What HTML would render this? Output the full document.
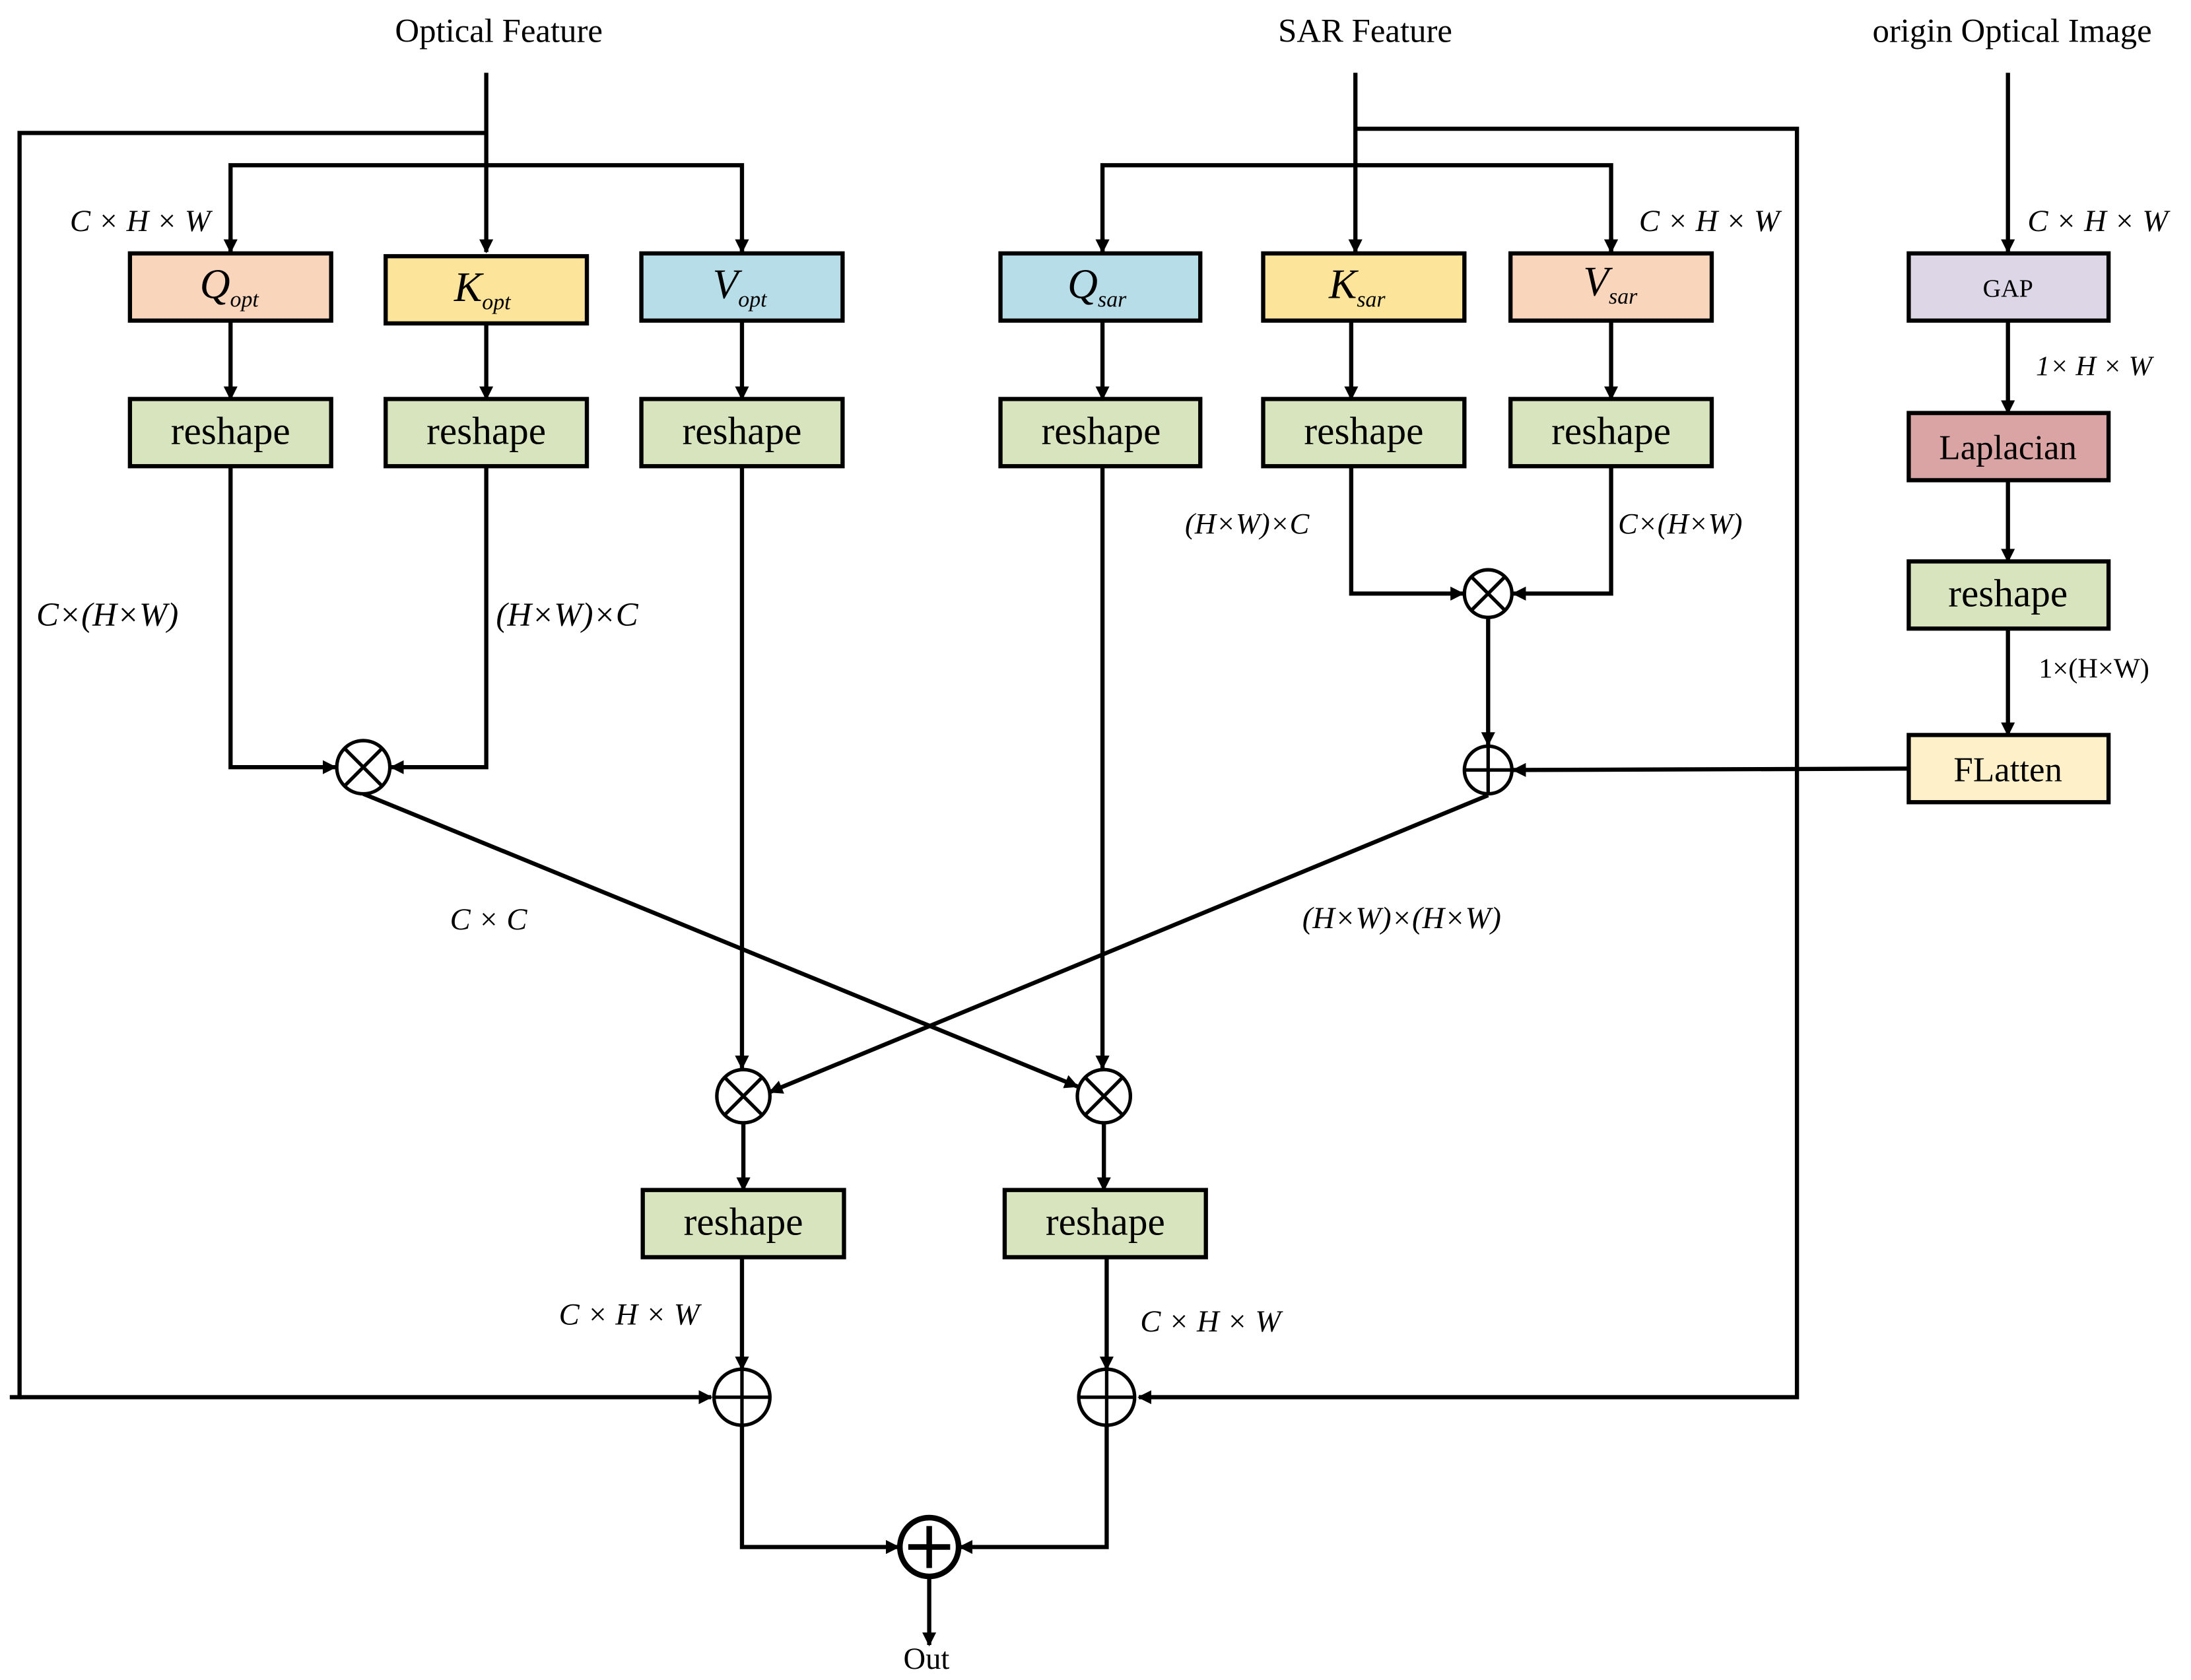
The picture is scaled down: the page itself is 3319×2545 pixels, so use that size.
<!DOCTYPE html>
<html><head><meta charset="utf-8"><style>
html,body{margin:0;padding:0;background:#fff;}
svg{display:block;}
text{font-family:"Liberation Serif",serif;fill:#000;}
.it{font-style:italic;}
</style></head><body>
<svg width="3319" height="2545" viewBox="0 0 1568 1200" preserveAspectRatio="none" xmlns="http://www.w3.org/2000/svg">
<defs>
<marker id="a" markerWidth="10" markerHeight="10" refX="9" refY="5" orient="auto" markerUnits="userSpaceOnUse">
<path d="M0,0 L10,5 L0,10 z" fill="#000"/></marker>
</defs>
<g stroke="#000" stroke-width="3" fill="none">
<!-- optical feature -->
<path d="M348,52 V180" marker-end="url(#a)"/>
<path d="M348,95 H14 V998 H7"/>
<path d="M14,998 H509" marker-end="url(#a)"/>
<path d="M165,180 V118 H531 V180" />
<path d="M165,170 V180" marker-end="url(#a)"/>
<path d="M531,170 V180" marker-end="url(#a)"/>
<!-- SAR -->
<path d="M970,52 V180" marker-end="url(#a)"/>
<path d="M970,92 H1286 V998 H815" marker-end="url(#a)"/>
<path d="M789,180 V118 H1153 V180"/>
<path d="M789,170 V180" marker-end="url(#a)"/>
<path d="M1153,170 V180" marker-end="url(#a)"/>
<!-- box to reshape -->
<path d="M165,229 V285" marker-end="url(#a)"/>
<path d="M348,231 V285" marker-end="url(#a)"/>
<path d="M531,229 V285" marker-end="url(#a)"/>
<path d="M789,229 V285" marker-end="url(#a)"/>
<path d="M967,229 V285" marker-end="url(#a)"/>
<path d="M1153,229 V285" marker-end="url(#a)"/>
<!-- optical reshape paths -->
<path d="M165,333 V548 H240" marker-end="url(#a)"/>
<path d="M348,333 V548 H280" marker-end="url(#a)"/>
<path d="M531,333 V763" marker-end="url(#a)"/>
<path d="M789,333 V763" marker-end="url(#a)"/>
<path d="M967,333 V424 H1047" marker-end="url(#a)"/>
<path d="M1153,333 V424 H1083" marker-end="url(#a)"/>
<path d="M1065,441 V532" marker-end="url(#a)"/>
<path d="M1366,549 L1083,550" marker-end="url(#a)"/>
<!-- GAP chain -->
<path d="M1437,52 V180" marker-end="url(#a)"/>
<path d="M1437,229 V295" marker-end="url(#a)"/>
<path d="M1437,343 V401" marker-end="url(#a)"/>
<path d="M1437,449 V525" marker-end="url(#a)"/>
<!-- crossing -->
<path d="M260,567 L771,776" marker-end="url(#a)"/>
<path d="M1065,568 L551,780" marker-end="url(#a)"/>
<!-- bottom -->
<path d="M532,802 V850" marker-end="url(#a)"/>
<path d="M790,802 V850" marker-end="url(#a)"/>
<path d="M531,898 V978" marker-end="url(#a)"/>
<path d="M792,898 V978" marker-end="url(#a)"/>
<path d="M531,1018 V1105 H643" marker-end="url(#a)"/>
<path d="M792,1018 V1105 H687" marker-end="url(#a)"/>
<path d="M665,1126 V1175" marker-end="url(#a)"/>
</g>
<!-- boxes -->
<g stroke="#000" stroke-width="3">
<rect x="93" y="181" width="144" height="48" fill="#f9d5bc"/>
<rect x="276" y="183" width="144" height="48" fill="#fde49b"/>
<rect x="459" y="181" width="144" height="48" fill="#b6dde8"/>
<rect x="716" y="181" width="143" height="48" fill="#b6dde8"/>
<rect x="904" y="181" width="144" height="48" fill="#fde49b"/>
<rect x="1081" y="181" width="144" height="48" fill="#f9d5bc"/>
<rect x="1366" y="181" width="143" height="48" fill="#dcd6e6"/>
<rect x="1366" y="295" width="143" height="48" fill="#dba4a4"/>
<rect x="1366" y="525" width="143" height="48" fill="#fef1c9"/>
<g fill="#d7e4bd">
<rect x="93" y="285" width="144" height="48"/>
<rect x="276" y="285" width="144" height="48"/>
<rect x="459" y="285" width="144" height="48"/>
<rect x="716" y="285" width="143" height="48"/>
<rect x="904" y="285" width="144" height="48"/>
<rect x="1081" y="285" width="144" height="48"/>
<rect x="1366" y="401" width="143" height="48"/>
<rect x="460" y="850" width="144" height="48"/>
<rect x="719" y="850" width="144" height="48"/>
</g>
</g>
<!-- circles -->
<g stroke="#000" stroke-width="2.5" fill="#fff">
<circle cx="260" cy="548" r="19"/><path d="M247,535 L273,561 M273,535 L247,561"/>
<circle cx="1065" cy="424" r="17"/><path d="M1053,412 L1077,436 M1077,412 L1053,436"/>
<circle cx="1065" cy="550" r="17"/><path d="M1048,550 H1082 M1065,533 V567"/>
<circle cx="532" cy="783" r="19"/><path d="M519,770 L545,796 M545,770 L519,796"/>
<circle cx="790" cy="783" r="19"/><path d="M777,770 L803,796 M803,770 L777,796"/>
<circle cx="531" cy="998" r="20"/><path d="M511,998 H551 M531,978 V1018"/>
<circle cx="792" cy="998" r="20"/><path d="M772,998 H812 M792,978 V1018"/>
<circle cx="665" cy="1105" r="21" stroke-width="4"/><path d="M650,1105 H680 M665,1090 V1120" stroke-width="4"/>
</g>
<!-- texts -->
<g font-size="24" text-anchor="middle">
<text x="357" y="30">Optical Feature</text>
<text x="977" y="30">SAR Feature</text>
<text x="1440" y="30">origin Optical Image</text>
<text x="663" y="1192" font-size="22">Out</text>
</g>
<g font-size="28" text-anchor="middle">
<text x="165" y="317">reshape</text>
<text x="348" y="317">reshape</text>
<text x="531" y="317">reshape</text>
<text x="788" y="317">reshape</text>
<text x="976" y="317">reshape</text>
<text x="1153" y="317">reshape</text>
<text x="1437" y="433">reshape</text>
<text x="532" y="882">reshape</text>
<text x="791" y="882">reshape</text>
<text x="1437" y="328" font-size="25">Laplacian</text>
<text x="1437" y="558" font-size="25">FLatten</text>
<text x="1437" y="212" font-size="18">GAP</text>
</g>
<g font-size="30" class="it">
<text x="143" y="213">Q<tspan font-size="16" dy="6">opt</tspan></text>
<text x="325" y="215">K<tspan font-size="16" dy="6">opt</tspan></text>
<text x="510" y="213">V<tspan font-size="16" dy="6">opt</tspan></text>
<text x="764" y="213">Q<tspan font-size="16" dy="6">sar</tspan></text>
<text x="951" y="213">K<tspan font-size="16" dy="6">sar</tspan></text>
<text x="1133" y="211">V<tspan font-size="16" dy="6">sar</tspan></text>
</g>
<g font-size="22" class="it">
<text x="50" y="165">C × H × W</text>
<text x="1173" y="165">C × H × W</text>
<text x="1451" y="165">C × H × W</text>
<text x="1457" y="268" font-size="20">1× H × W</text>
<text x="1459" y="484" font-size="20" font-style="normal">1×(H×W)</text>
<text x="26" y="447" font-size="24">C×(H×W)</text>
<text x="355" y="447" font-size="24">(H×W)×C</text>
<text x="848" y="381" font-size="21">(H×W)×C</text>
<text x="1158" y="381" font-size="21">C×(H×W)</text>
<text x="322" y="664">C × C</text>
<text x="932" y="663">(H×W)×(H×W)</text>
<text x="400" y="946">C × H × W</text>
<text x="816" y="951">C × H × W</text>
</g>
</svg>
</body></html>
